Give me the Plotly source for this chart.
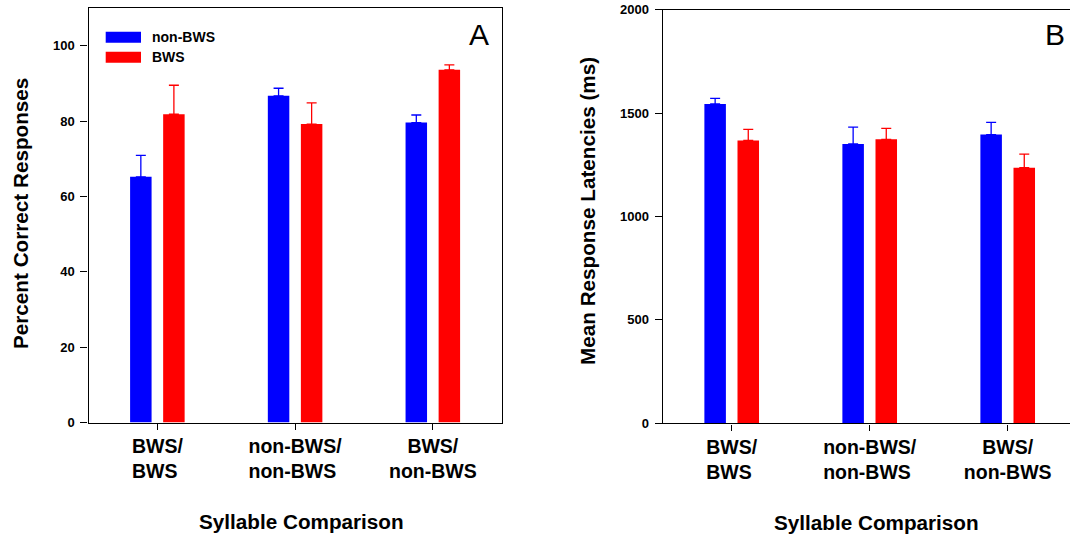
import plotly.graph_objects as go

W, H = 1070, 536

categories = ["BWS/<br>BWS\u00a0", "non-BWS/<br>non-BWS\u00a0", "BWS/<br>non-BWS"]
series_names = ["non-BWS", "BWS"]
colors = ["#0000FF", "#FF0000"]

# Panel A: Percent Correct Responses
pct_nonbws = [65.2, 86.7, 79.6]
pct_nonbws_err = [5.7, 2.0, 2.0]
pct_bws = [81.8, 79.2, 93.6]
pct_bws_err = [7.7, 5.6, 1.3]

# Panel B: Mean Response Latencies (ms)
lat_nonbws = [1544, 1351, 1396]
lat_nonbws_err = [27, 81, 59]
lat_bws = [1368, 1373, 1236]
lat_bws_err = [53, 53, 66]

FONT = "Liberation Sans, Arial, Helvetica, sans-serif"

def px_x(p):
    return p / W

def px_y(p):
    return 1 - p / H

fig = go.Figure()

xs = [0, 1, 2]

def add_bars(vals, errs, name, color, xa, ya):
    fig.add_trace(go.Bar(
        x=xs, y=vals, name=name, marker=dict(color=color, line=dict(width=0)),
        error_y=dict(type="data", array=errs, arrayminus=[0] * len(errs),
                     symmetric=False, color=color, thickness=1.3, width=5),
        xaxis=xa, yaxis=ya, showlegend=False,
    ))

add_bars(pct_nonbws, pct_nonbws_err, series_names[0], colors[0], "x", "y")
add_bars(pct_bws, pct_bws_err, series_names[1], colors[1], "x", "y")
add_bars(lat_nonbws, lat_nonbws_err, series_names[0], colors[0], "x2", "y2")
add_bars(lat_bws, lat_bws_err, series_names[1], colors[1], "x2", "y2")

tickfont = dict(family=FONT, size=13, color="black", weight="bold")
xtickfont = dict(family=FONT, size=19.5, color="black", weight="bold")

axis_common = dict(showline=True, linecolor="black", linewidth=1.4,
                   showgrid=False, zeroline=False, ticks="outside",
                   tickcolor="black", tickwidth=1.4, automargin=False)

fig.update_layout(
    width=W, height=H,
    margin=dict(l=0, r=0, t=0, b=0, autoexpand=False),
    paper_bgcolor="white", plot_bgcolor="white",
    barmode="group", bargap=0.52, bargroupgap=0.35,
    font=dict(family=FONT, color="black"),
    xaxis=dict(domain=[px_x(88.5), px_x(501.7)], range=[-0.5, 2.5],
               tickvals=xs, ticktext=categories, ticklen=6, mirror=True,
               tickfont=xtickfont, anchor="y", **axis_common),
    yaxis=dict(domain=[px_y(422.5), px_y(8)], range=[0, 110],
               tickvals=[0, 20, 40, 60, 80, 100], ticklen=7, mirror=True,
               tickfont=tickfont, anchor="x", ticklabelstandoff=3, **axis_common),
    xaxis2=dict(domain=[px_x(662.7), 1.0], range=[-0.5, -0.5 + (1070 - 662.7) / 138.0],
                tickvals=xs, ticktext=categories, ticklen=6, mirror=True,
                tickfont=xtickfont, anchor="y2", **axis_common),
    yaxis2=dict(domain=[px_y(423.3), px_y(9.7)], range=[0, 2000],
                tickvals=[0, 500, 1000, 1500, 2000], ticklen=7, mirror=False,
                tickfont=tickfont, anchor="x2", ticklabelstandoff=3, **axis_common),
)

titlefont = dict(family=FONT, size=20.7, color="black")
annotations = [
    dict(text="<b>Percent Correct Responses</b>", x=px_x(20), y=px_y(214),
         textangle=-90, font=titlefont),
    dict(text="<b>Mean Response Latencies (ms)</b>", x=px_x(587), y=px_y(211),
         textangle=-90, font=titlefont),
    dict(text="<b>Syllable Comparison</b>", x=px_x(301), y=px_y(521), font=titlefont),
    dict(text="<b>Syllable Comparison</b>", x=px_x(876), y=px_y(522), font=titlefont),
    dict(text="A", x=px_x(479), y=px_y(34), font=dict(family=FONT, size=30, color="black")),
    dict(text="B", x=px_x(1054.5), y=px_y(34.5), font=dict(family=FONT, size=30, color="black")),
    dict(text="<b>" + series_names[0] + "</b>", x=px_x(150), y=px_y(37.3), xanchor="left",
         font=dict(family=FONT, size=14, color="black")),
    dict(text="<b>" + series_names[1] + "</b>", x=px_x(150), y=px_y(56.7), xanchor="left",
         font=dict(family=FONT, size=14, color="black")),
]
for a in annotations:
    a.setdefault("xanchor", "center")
    a.update(xref="paper", yref="paper", yanchor="middle", showarrow=False)
fig.update_layout(annotations=annotations)

fig.update_layout(shapes=[
    dict(type="rect", xref="paper", yref="paper", x0=px_x(105.7), x1=px_x(141),
         y0=px_y(42.7), y1=px_y(31.7), fillcolor=colors[0], line=dict(width=0)),
    dict(type="rect", xref="paper", yref="paper", x0=px_x(105.7), x1=px_x(141),
         y0=px_y(62.7), y1=px_y(51.7), fillcolor=colors[1], line=dict(width=0)),
])

fig.write_html("out.html")
